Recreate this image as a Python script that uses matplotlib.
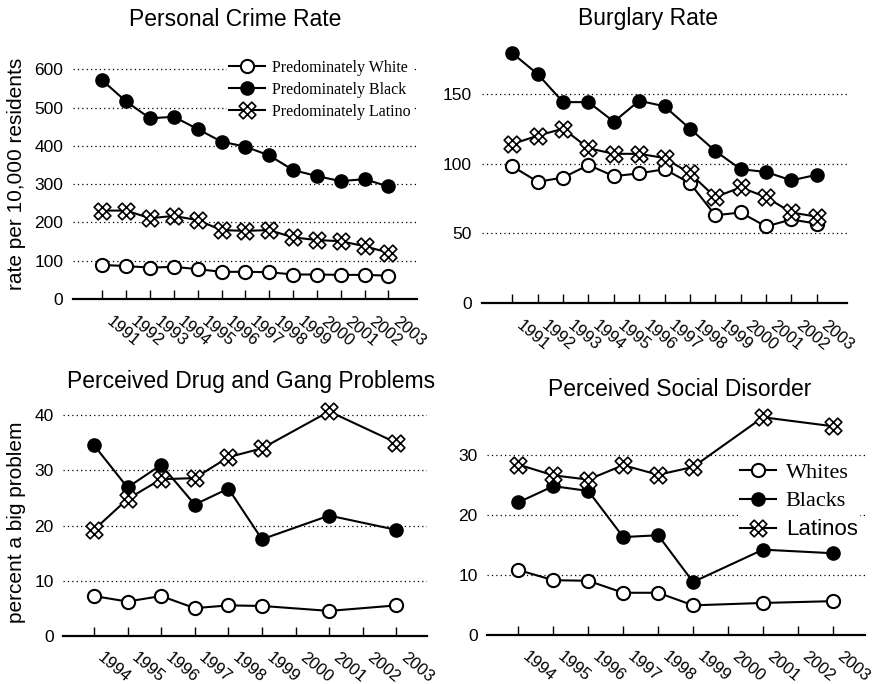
import numpy as np
import matplotlib
matplotlib.use("Agg")
import matplotlib.pyplot as plt
import matplotlib.path as mpath
import matplotlib.transforms as mtransforms

# crime statistics, 1991-2003
crime_years = list(range(1991, 2004))
personal_white = [89, 86, 82, 84, 78, 71, 71, 70, 64, 64, 63, 63, 61]
personal_black = [571, 516, 472, 476, 444, 411, 398, 375, 337, 321, 308, 313, 294]
personal_latino = [231, 231, 211, 217, 206, 180, 178, 180, 161, 154, 151, 138, 121]

burglary_white = [98, 87, 90, 99, 91, 93, 96, 86, 63, 65, 55, 60, 57]
burglary_black = [179, 164, 144, 144, 130, 145, 141, 125, 109, 96, 94, 88, 92]
burglary_latino = [114, 120, 125, 111, 107, 107, 104, 93, 76, 83, 76, 65, 62]

# survey results (no survey in 2000 and 2002)
survey_years = [1994, 1995, 1996, 1997, 1998, 1999, 2001, 2003]
survey_ticks = list(range(1994, 2004))
drug_white = [7.2, 6.2, 7.2, 5.0, 5.5, 5.4, 4.5, 5.5]
drug_black = [34.6, 26.9, 31.0, 23.8, 26.7, 17.5, 21.8, 19.2]
drug_latino = [19.2, 24.8, 28.4, 28.6, 32.4, 34.0, 40.7, 35.0]

disorder_white = [10.8, 9.1, 9.0, 7.0, 7.0, 4.9, 5.3, 5.6]
disorder_black = [22.1, 24.8, 24.0, 16.3, 16.6, 8.8, 14.2, 13.6]
disorder_latino = [28.4, 26.6, 25.9, 28.3, 26.7, 28.0, 36.3, 34.8]

W, H = 874, 684
SANS = "Liberation Sans"
SERIF = "Liberation Serif"
plt.rcParams["font.family"] = SANS


def crossed_bars(length=1.0, width=0.32):
    # two outlined bars crossing at right angles
    verts, codes = [], []
    s = np.sqrt(0.5)
    for dx, dy in [(s, s), (s, -s)]:
        nx, ny = -dy, dx
        pts = [(length * dx + width * nx, length * dy + width * ny),
               (length * dx - width * nx, length * dy - width * ny),
               (-length * dx - width * nx, -length * dy - width * ny),
               (-length * dx + width * nx, -length * dy + width * ny)]
        verts += pts + [pts[0]]
        codes += [mpath.Path.MOVETO] + [mpath.Path.LINETO] * 3 + [mpath.Path.CLOSEPOLY]
    return mpath.Path(verts, codes)


LATINO_MARKER = crossed_bars()


def px_axes(fig, left, right, bottom, top):
    return fig.add_axes([left / W, 1 - bottom / H, (right - left) / W, (bottom - top) / H])


def style_axes(ax, xticks, ylim, yticks):
    ax.set_ylim(*ylim)
    ax.set_yticks(yticks)
    ax.set_xticks(xticks)
    for side in ["left", "right", "top"]:
        ax.spines[side].set_visible(False)
    ax.spines["bottom"].set_linewidth(1.6)
    ax.tick_params(axis="x", direction="in", length=6.5, width=1, pad=10.5)
    ax.tick_params(axis="y", length=0, pad=7, labelsize=12.5)
    ax.yaxis.grid(True, linestyle=(0, (1, 2.5)), color="black", linewidth=0.9)
    ax.set_axisbelow(True)
    # slanted year labels, nudged right of their ticks
    ax.set_xticklabels([str(y) for y in xticks], rotation=-40, ha="left", va="top",
                       rotation_mode="anchor", fontsize=12)
    shift = mtransforms.ScaledTranslation(11 / 100, 0, ax.figure.dpi_scale_trans)
    for lab in ax.get_xticklabels():
        lab.set_transform(lab.get_transform() + shift)


def draw_series(ax, x, white, black, latino, names):
    kw = dict(color="black", linewidth=1.5, clip_on=False, zorder=3)
    h1, = ax.plot(x, white, marker="o", markersize=9.5, markerfacecolor="white",
                  markeredgecolor="black", markeredgewidth=1.5, label=names[0], **kw)
    h2, = ax.plot(x, black, marker="o", markersize=9.5, markerfacecolor="black",
                  markeredgecolor="black", label=names[1], **kw)
    h3, = ax.plot(x, latino, marker=LATINO_MARKER, markersize=12, markerfacecolor="white",
                  markeredgecolor="black", markeredgewidth=1.2, label=names[2], **kw)
    return [h1, h2, h3]


fig = plt.figure(figsize=(W / 100, H / 100), dpi=100)

# Personal crime rate
ax1 = px_axes(fig, 73, 417, 299, 54)
handles = draw_series(ax1, crime_years, personal_white, personal_black, personal_latino,
                      ["Predominately White", "Predominately Black", "Predominately Latino"])
ax1.set_xlim(1991 - 1.23, 2003 + 1.2)
style_axes(ax1, crime_years, (0, 640), range(0, 601, 100))
leg1 = ax1.legend(handles=handles, loc="upper left", bbox_to_anchor=(227 / W, 1 - 58 / H),
                  bbox_transform=fig.transFigure, prop={"family": SERIF, "size": 11.5},
                  frameon=True, facecolor="white", edgecolor="none", framealpha=1,
                  fancybox=False, borderpad=0.1, borderaxespad=0, numpoints=1,
                  handlelength=2.25, handletextpad=0.45, labelspacing=0.38)

# Burglary rate
ax2 = px_axes(fig, 481.7, 846.7, 303.3, 303.3 - 190 * 1.397)
draw_series(ax2, crime_years, burglary_white, burglary_black, burglary_latino, ["", "", ""])
ax2.set_xlim(1991 - 1.21, 2003 + 1.18)
style_axes(ax2, crime_years, (0, 190), [0, 50, 100, 150])

# Perceived drug and gang problems
ax3 = px_axes(fig, 63.3, 426.7, 635.7, 635.7 - 43 * 5.51)
draw_series(ax3, survey_years, drug_white, drug_black, drug_latino, ["", "", ""])
ax3.set_xlim(1994 - 0.91, 2003 + 0.9)
style_axes(ax3, survey_ticks, (0, 43), range(0, 41, 10))

# Perceived social disorder
ax4 = px_axes(fig, 487.3, 865, 634.7, 634.7 - 38 * 5.99)
handles4 = draw_series(ax4, survey_years, disorder_white, disorder_black, disorder_latino,
                       ["Whites", "Blacks", "Latinos"])
ax4.set_xlim(1994 - 0.89, 2003 + 0.92)
style_axes(ax4, survey_ticks, (0, 38), range(0, 31, 10))
leg4 = ax4.legend(handles=handles4, loc="upper left", bbox_to_anchor=(738 / W, 1 - 460 / H),
                  bbox_transform=fig.transFigure, prop={"family": SERIF, "size": 16},
                  frameon=True, facecolor="white", edgecolor="none", framealpha=1,
                  fancybox=False, borderpad=0.1, borderaxespad=0, numpoints=1,
                  handlelength=1.6, handletextpad=0.45, labelspacing=0.36)
leg4.get_texts()[2].set_family(SANS)

# titles and axis labels
fig.text(235 / W, 1 - 19 / H, "Personal Crime Rate", ha="center", va="center", fontsize=16.5)
fig.text(648 / W, 1 - 18.3 / H, "Burglary Rate", ha="center", va="center", fontsize=16.5)
fig.text(250.7 / W, 1 - 381.7 / H, "Perceived Drug and Gang Problems", ha="center", va="center", fontsize=16.5)
fig.text(680 / W, 1 - 390 / H, "Perceived Social Disorder", ha="center", va="center", fontsize=16.5)
fig.text(16.7 / W, 1 - 174 / H, "rate per 10,000 residents", rotation=90,
         ha="center", va="center", fontsize=15)
fig.text(16.7 / W, 1 - 522.5 / H, "percent a big problem", rotation=90,
         ha="center", va="center", fontsize=15)

fig.savefig("out.png", dpi=100, facecolor="white")
